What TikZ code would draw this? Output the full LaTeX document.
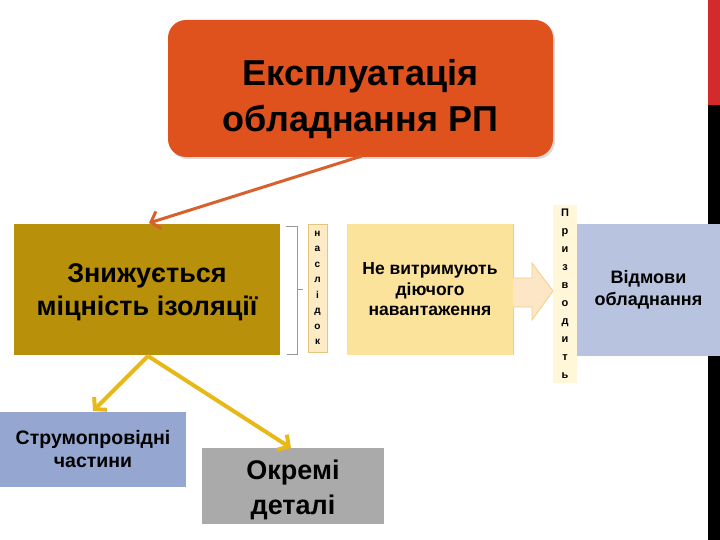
\documentclass[tikz,border=0pt]{standalone}
\usepackage{fontspec}
\setmainfont{Liberation Sans}
\usetikzlibrary{arrows.meta,shadows}
\definecolor{orangebox}{HTML}{E0521D}
\definecolor{orangearr}{HTML}{D8602C}
\definecolor{olivebox}{HTML}{B8900A}
\definecolor{yellowbox}{HTML}{FCE39C}
\definecolor{creambox}{HTML}{FCEBC4}
\definecolor{creamedge}{HTML}{E6C47A}
\definecolor{stripbox}{HTML}{FFF7D8}
\definecolor{bluebox}{HTML}{B8C3DF}
\definecolor{blueboxb}{HTML}{95A7D0}
\definecolor{graybox}{HTML}{AAAAAA}
\definecolor{redbar}{HTML}{D32B2B}
\definecolor{goldarr}{HTML}{E8B818}
\definecolor{arrowfill}{HTML}{FCE6C6}
\definecolor{arrowedge}{HTML}{F0CF88}
\tikzset{
  box/.style={inner sep=0pt, align=center, text=black, font=\bfseries},
  vstrip/.style={inner sep=0pt, align=center, text=black},
  orangeline/.style={draw=orangearr, line width=3pt, -{Straight Barb[length=8pt,width=18pt]}},
  goldline/.style={draw=goldarr, line width=4pt, -{Straight Barb[length=8pt,width=18pt]}},
}
\begin{document}
\begin{tikzpicture}[x=1pt,y=-1pt]
\useasboundingbox (0,0) rectangle (720,540);
% side bar
\fill[redbar] (708,0) rectangle (720,105);
\fill[black] (708,105) rectangle (720,540);
% top box
\node[fill=orangebox, rounded corners=18pt, minimum width=385pt, minimum height=137pt,
  drop shadow={shadow xshift=2pt, shadow yshift=-2pt, opacity=0.3}] (top) at (360.5,88.5) {};
\node[box, font=\fontsize{36}{46}\selectfont\bfseries] (toptext) at (360.5,99) {Експлуатація\\обладнання РП};
% olive box
\node[box, fill=olivebox, minimum width=266pt, minimum height=131pt] (olive) at (147,289.5) {};
\node[box, font=\fontsize{27}{33}\selectfont\bfseries] (olivetext) at (147,292.5) {Знижується\\міцність ізоляції};
% brace
\draw[gray!80, line width=0.8pt] (286,226) -- (297,226) -- (297,289) -- (303,289)
  (297,289) -- (297,354) -- (287,354);
% наслідок strip
\node[vstrip, fill=creambox, draw=creamedge, line width=0.6pt, minimum width=19pt, minimum height=128pt,
  font=\fontsize{10}{15.5}\selectfont\bfseries] (nasl) at (317.5,288) {н\\а\\с\\л\\і\\д\\о\\к};
% yellow box
\node[box, fill=yellowbox, minimum width=166pt, minimum height=131pt,
  font=\fontsize{17.5}{20.5}\selectfont\bfseries] (yel) at (430,289.5) {Не витримують\\діючого\\навантаження};
\draw[yellowbox!80!brown, line width=1pt] (yel.north east) -- (yel.south east);
% block arrow
\draw[fill=arrowfill, draw=arrowedge, line width=0.8pt]
  (yel.east |- 0,278) -- (532,278) -- (532,263) -- (553,291) -- (532,320) -- (532,307) -- (yel.east |- 0,307) ;
% blue box (right)
\node[box, fill=bluebox, minimum width=143pt, minimum height=131pt,
  font=\fontsize{18}{22}\selectfont\bfseries] (fail) at (648.5,290) {Відмови\\обладнання};
% призводить strip
\node[vstrip, fill=stripbox, minimum width=24pt, minimum height=178pt,
  font=\fontsize{11}{18}\selectfont\bfseries] (priz) at (565,294) {П\\р\\и\\з\\в\\о\\д\\и\\т\\ь};
% bottom boxes
\node[box, fill=blueboxb, minimum width=186pt, minimum height=75pt,
  font=\fontsize{19.5}{23}\selectfont\bfseries] (strum) at (93,449.5) {Струмопровідні\\частини};
\node[box, fill=graybox, minimum width=182pt, minimum height=76pt] (okr) at (293,486) {};
\node[box, font=\fontsize{27}{35}\selectfont\bfseries] (okrtext) at (293,490) {Окремі\\деталі};
% connectors
\coordinate (topout) at (362,156);
\coordinate (olivein) at (149,223);
\draw[orangeline] (topout) -- (olivein);
\coordinate (oliveout) at (148,356);
\coordinate (strumin) at (93,411);
\coordinate (okrin) at (291,448);
\draw[goldline] (oliveout) -- (strumin);
\draw[goldline] (oliveout) -- (okrin);
\end{tikzpicture}
\end{document}
